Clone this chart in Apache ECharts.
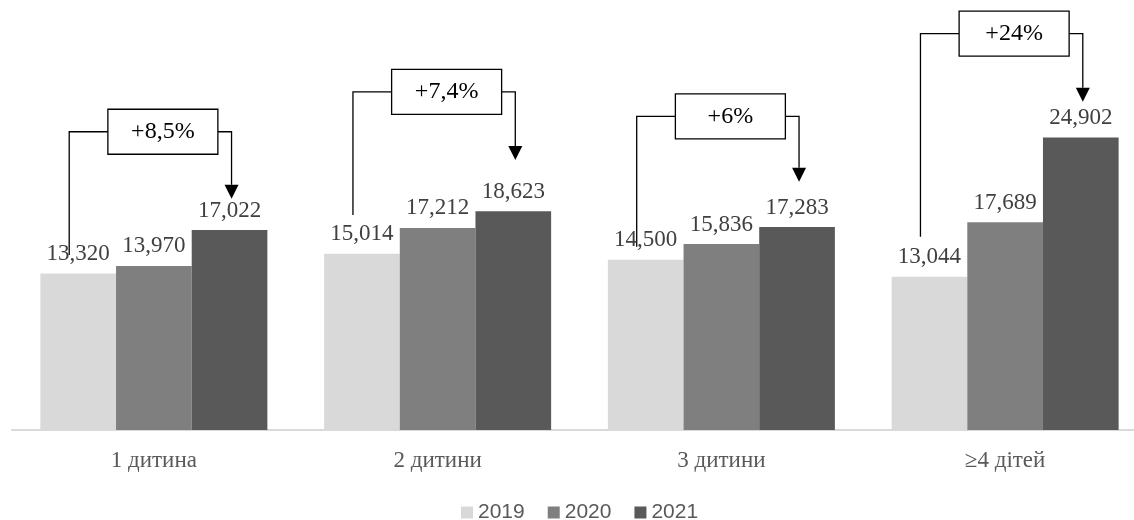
<!DOCTYPE html>
<html>
<head>
<meta charset="utf-8">
<script src="https://cdn.jsdelivr.net/npm/echarts@6/dist/echarts.min.js"></script>
<style>
  html, body { margin: 0; padding: 0; background: #fff; overflow: hidden; }
  /* plot area runs slightly past the right edge, as in the source */
  #chart { width: 1147px; height: 520px; }
</style>
</head>
<body>
<div id="chart"></div>
<script>
// Data
const categories = ['1 дитина', '2 дитини', '3 дитини', '≥4 дітей'];
const years = ['2019', '2020', '2021'];
const values2019 = [13320, 15014, 14500, 13044];
const values2020 = [13970, 17212, 15836, 17689];
const values2021 = [17022, 18623, 17283, 24902];
const growthLabels = ['+8,5%', '+7,4%', '+6%', '+24%'];

// Bracket annotation layout (value-axis units)
const bracketLevel = [25400, 28800, 26700, 33750];
const leftLineEnd = [14900, 18300, 15600, 16450];
const arrowTip = [19700, 23000, 21150, 27950];

const colors = ['#d9d9d9', '#7f7f7f', '#595959'];
const serif = '"Liberation Serif", "Times New Roman", serif';

const chart = echarts.init(document.getElementById('chart'));

function fmt(v) {
    return v.toLocaleString('en-US');
}

function makeSeries(name, data, color) {
    return {
        name: name,
        type: 'bar',
        data: data,
        barGap: '0%',
        barCategoryGap: '20%',
        itemStyle: { color: color },
        label: {
            show: true,
            position: 'top',
            distance: 8,
            fontFamily: serif,
            fontSize: 23,
            color: '#404040',
            formatter: p => fmt(p.value)
        }
    };
}

const option = {
    animation: false,
    backgroundColor: '#fff',
    color: colors,
    grid: { left: 12, right: 0, top: 19, bottom: 90 },
    legend: {
        data: years,
        left: 456,
        top: 497,
        itemWidth: 12,
        itemHeight: 12,
        itemGap: 23,
        icon: 'rect',
        textStyle: {
            fontFamily: '"Liberation Sans", Arial, sans-serif',
            fontSize: 21,
            color: '#595959'
        }
    },
    xAxis: {
        type: 'category',
        data: categories,
        axisLine: { lineStyle: { color: '#d9d9d9', width: 2 } },
        axisTick: { show: false },
        axisLabel: {
            fontFamily: serif,
            fontSize: 23,
            color: '#595959',
            margin: 19
        }
    },
    yAxis: {
        type: 'value',
        min: 0,
        max: 35000,
        show: false,
        splitLine: { show: false }
    },
    series: [
        makeSeries(years[0], values2019, colors[0]),
        makeSeries(years[1], values2020, colors[1]),
        makeSeries(years[2], values2021, colors[2])
    ]
};

chart.setOption(option);

// Bracket + arrow annotations placed through the chart's own scales
function buildAnnotations() {
    const c0 = chart.convertToPixel({ xAxisIndex: 0 }, 0);
    const c1 = chart.convertToPixel({ xAxisIndex: 0 }, 1);
    const band = c1 - c0;
    const barW = band * 0.8 / 3;
    const boxW = 110, boxH = 45, arrowH = 14, arrowHalf = 7;
    const elements = [];

    categories.forEach((cat, i) => {
        const cx = chart.convertToPixel({ xAxisIndex: 0 }, i);
        const leftX = cx - barW - 9;
        const arrowX = cx + barW + 2;
        const boxCx = cx + 9;
        const yLevel = chart.convertToPixel({ yAxisIndex: 0 }, bracketLevel[i]);
        const yEnd = chart.convertToPixel({ yAxisIndex: 0 }, leftLineEnd[i]);
        const yTip = chart.convertToPixel({ yAxisIndex: 0 }, arrowTip[i]);
        const lineStyle = { stroke: '#000', lineWidth: 1.3, fill: null };

        elements.push({
            type: 'polyline',
            shape: { points: [[leftX, yEnd], [leftX, yLevel], [boxCx - boxW / 2, yLevel]] },
            style: lineStyle
        });
        elements.push({
            type: 'polyline',
            shape: { points: [[boxCx + boxW / 2, yLevel], [arrowX, yLevel], [arrowX, yTip - arrowH]] },
            style: lineStyle
        });
        elements.push({
            type: 'polygon',
            shape: { points: [[arrowX - arrowHalf, yTip - arrowH], [arrowX + arrowHalf, yTip - arrowH], [arrowX, yTip]] },
            style: { fill: '#000' }
        });
        elements.push({
            type: 'rect',
            shape: { x: boxCx - boxW / 2, y: yLevel - boxH / 2, width: boxW, height: boxH },
            style: { fill: '#fff', stroke: '#000', lineWidth: 1.3 }
        });
        elements.push({
            type: 'text',
            x: boxCx,
            y: yLevel,
            style: {
                text: growthLabels[i],
                fontFamily: serif,
                fontSize: 24,
                fill: '#000',
                align: 'center',
                verticalAlign: 'middle'
            }
        });
    });

    chart.setOption({ graphic: { elements: elements } });
}

buildAnnotations();
</script>
</body>
</html>
